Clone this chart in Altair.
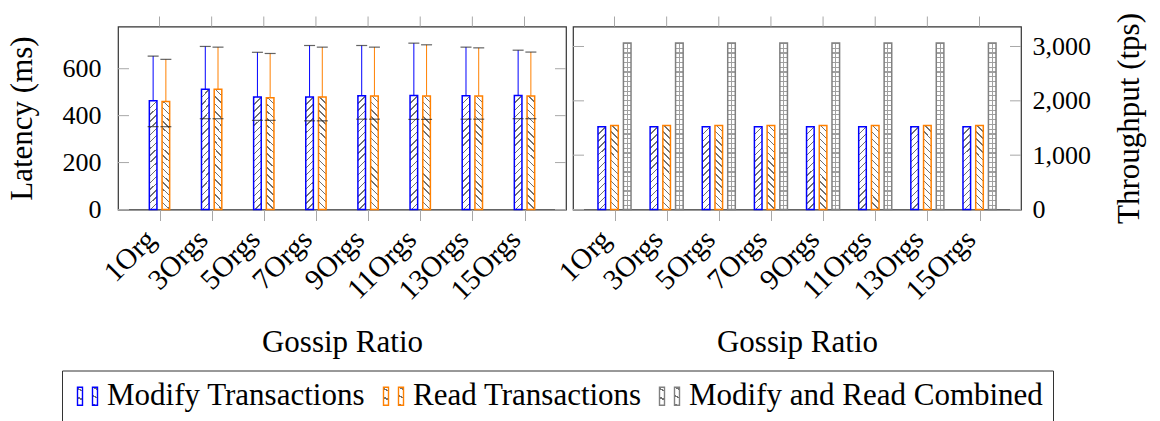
import json

import altair as alt
import pandas as pd

# ---------------------------------------------------------------- data
orgs = ["1Org", "3Orgs", "5Orgs", "7Orgs", "9Orgs", "11Orgs", "13Orgs", "15Orgs"]
series_names = ["Modify Transactions", "Read Transactions", "Modify and Read Combined"]
series_colors = ["#0000ff", "#ff8000", "#808080"]

# latency (ms): bar value plus lower / upper error bar ends
modify_latency = [463, 513, 479, 480, 485, 486, 485, 486]
modify_latency_low = [353, 387, 380, 378, 385, 384, 385, 387]
modify_latency_high = [654, 695, 670, 699, 699, 709, 692, 679]
read_latency = [460, 513, 476, 479, 484, 484, 484, 484]
read_latency_low = [353, 387, 380, 378, 385, 384, 385, 387]
read_latency_high = [640, 692, 665, 692, 692, 702, 689, 671]

# throughput (tps)
modify_throughput = [1521, 1521, 1521, 1521, 1521, 1521, 1521, 1521]
read_throughput = [1546, 1546, 1546, 1546, 1546, 1546, 1546, 1546]
combined_throughput = [3066, 3066, 3066, 3066, 3066, 3066, 3066, 3066]

latency_ticks = [0, 200, 400, 600]
throughput_ticks = [0, 1000, 2000, 3000]

# ---------------------------------------------------------------- tables
n = len(orgs)
idx = list(range(n))
latency = pd.DataFrame({
    "org": orgs * 2,
    "idx": idx * 2,
    "series": [series_names[0]] * n + [series_names[1]] * n,
    "value": modify_latency + read_latency,
    "low": modify_latency_low + read_latency_low,
    "high": modify_latency_high + read_latency_high,
})
throughput = pd.DataFrame({
    "org": orgs * 3,
    "idx": idx * 3,
    "series": [series_names[0]] * n + [series_names[1]] * n + [series_names[2]] * n,
    "value": modify_throughput + read_throughput + combined_throughput,
})
cats = pd.DataFrame({"idx": idx})
lat_tick_df = pd.DataFrame({"v": latency_ticks})
tp_tick_df = pd.DataFrame({"v": throughput_ticks})

# ---------------------------------------------------------------- layout / style
FONT = "Liberation Serif"
W, H = 448, 183
X_DOMAIN = [-0.7, 7.7]
LAT_DOMAIN = [0, 780]
TP_DOMAIN = [0, 3368]
TICK_GRAY = "#a8a8a8"
BAR_W = 7.6
BAR_STROKE = 1.5
TICK_LEN = 11
HATCH = "#707070"

stroke_scale = alt.Scale(domain=series_names, range=series_colors)

# legend swatch: two narrow upright bars
SWATCH = "M-1,-0.9H-0.5V0.9H-1Z M0.5,-0.9H1V0.9H0.5Z"
legend = alt.Legend(
    orient="none", legendX=-56, legendY=344, direction="horizontal", title=None,
    symbolType=SWATCH, symbolSize=400, symbolStrokeWidth=1.4, symbolFillColor="white",
    symbolOpacity=1, labelFont=FONT, labelFontSize=31, labelColor="black",
    labelLimit=2000, labelOffset=4, columnPadding=12, padding=10,
    strokeColor="#333", fillColor="white",
)


def hatch(direction, count, aspect, line=HATCH, frac=0.2):
    """Diagonal stripes as a hard-stop linear gradient in bar bbox units."""
    stops = []
    for k in range(count):
        a, b, c = k / count, (k + frac) / count, (k + 1) / count
        stops += [
            {"offset": a, "color": line}, {"offset": b, "color": line},
            {"offset": b, "color": "white"}, {"offset": c, "color": "white"},
        ]
    s = (aspect + 1) / (aspect * aspect + 1)
    if direction == "ne":
        x1, y1, x2, y2 = 0, 0, s * aspect, s
    else:
        x1, y1, x2, y2 = 0, 1, s * aspect, 1 - s
    return {"gradient": "linear", "stops": stops, "x1": x1, "y1": y1, "x2": x2, "y2": y2}


def rows(count, line="#a0a0a0", frac=0.25):
    stops = []
    for k in range(count):
        a, b, c = k / count, (k + frac) / count, (k + 1) / count
        stops += [
            {"offset": a, "color": line}, {"offset": b, "color": line},
            {"offset": b, "color": "white"}, {"offset": c, "color": "white"},
        ]
    return {"gradient": "linear", "stops": stops, "x1": 0, "y1": 0, "x2": 0, "y2": 1}


CLEAR = "rgba(255,255,255,0)"
mid_line = {
    "gradient": "linear", "x1": 0, "y1": 0, "x2": 1, "y2": 0,
    "stops": [
        {"offset": 0, "color": CLEAR}, {"offset": 0.43, "color": CLEAR},
        {"offset": 0.43, "color": "#a0a0a0"}, {"offset": 0.57, "color": "#a0a0a0"},
        {"offset": 0.57, "color": CLEAR}, {"offset": 1, "color": CLEAR},
    ],
}

lat_h = 485 / LAT_DOMAIN[1] * H
tp_h = 1530 / TP_DOMAIN[1] * H
lat_ne = hatch("ne", 17, BAR_W / lat_h)
lat_nw = hatch("nw", 17, BAR_W / lat_h)
tp_ne = hatch("ne", 13, BAR_W / tp_h)
tp_nw = hatch("nw", 13, BAR_W / tp_h)
grid_rows = rows(35)

label_expr = json.dumps(orgs) + "[datum.value]"
x_axis = alt.Axis(
    values=idx, labelExpr=label_expr, labelAngle=-45, labelAlign="right",
    labelBaseline="middle", labelFontSize=29, labelPadding=14, labelOffset=-9,
    labelOverlap=False, labelFlush=False, tickSize=TICK_LEN, tickColor=TICK_GRAY,
    tickWidth=1, title="Gossip Ratio", titleFontSize=31, titleX=W / 2, titleY=142,
    titleAlign="center", titleBaseline="alphabetic",
)
lat_axis = alt.Axis(
    orient="left", values=latency_ticks, ticks=False, tickSize=0, labelPadding=17,
    labelFontSize=26, title="Latency (ms)", titleFontSize=31, titleAngle=270,
    titleX=-86.4, titleY=H / 2, titleAlign="center", titleBaseline="alphabetic",
)
tp_axis = alt.Axis(
    orient="right", values=throughput_ticks, format=",d", ticks=False, tickSize=0,
    labelPadding=11, labelFontSize=26, title="Throughput (tps)", titleFontSize=31,
    titleAngle=270, titleX=117.7, titleY=H / 2, titleAlign="center",
    titleBaseline="alphabetic",
)


def xenc(field):
    return alt.X(field, type="quantitative",
                 scale=alt.Scale(domain=X_DOMAIN, nice=False, zero=False), axis=x_axis)


def yenc(field, domain, axis):
    return alt.Y(field, type="quantitative",
                 scale=alt.Scale(domain=domain, nice=False, zero=True), axis=axis)


def series_stroke():
    return alt.Stroke("series:N", scale=stroke_scale, legend=legend)


def frame_ticks(tick_df, domain, axis):
    """Inner y ticks on both sides and outer x ticks along the top."""
    left = alt.Chart(tick_df).mark_rule(color=TICK_GRAY, strokeWidth=1).encode(
        y=yenc("v", domain, axis), x=alt.value(0), x2=alt.value(TICK_LEN))
    right = alt.Chart(tick_df).mark_rule(color=TICK_GRAY, strokeWidth=1).encode(
        y=yenc("v", domain, axis), x=alt.value(W - TICK_LEN), x2=alt.value(W))
    top = alt.Chart(cats).mark_rule(color=TICK_GRAY, strokeWidth=1).encode(
        x=xenc("idx"), y=alt.value(-10), y2=alt.value(0))
    return [left, right, top]


# ---------------------------------------------------------------- latency panel
lat_offsets = {series_names[0]: -0.122, series_names[1]: 0.122}
lat_fills = {series_names[0]: lat_ne, series_names[1]: lat_nw}
lat_layers = []
for name in series_names[:2]:
    base = alt.Chart(latency).transform_filter(
        alt.datum.series == name
    ).transform_calculate(xpos=f"datum.idx + {lat_offsets[name]}")
    bars = base.mark_bar(size=BAR_W, fill=lat_fills[name], strokeWidth=BAR_STROKE).encode(
        x=xenc("xpos"), y=yenc("value", LAT_DOMAIN, lat_axis), stroke=series_stroke())
    whisker = base.mark_rule(strokeWidth=1).encode(
        x=xenc("xpos"), y=yenc("value", LAT_DOMAIN, lat_axis), y2="high:Q",
        stroke=series_stroke())
    cap_hi = base.mark_tick(orient="horizontal", size=11, thickness=1.2, color="#222").encode(
        x=xenc("xpos"), y=yenc("high", LAT_DOMAIN, lat_axis))
    cap_lo = base.mark_tick(orient="horizontal", size=11, thickness=1.2, color="#222").encode(
        x=xenc("xpos"), y=yenc("low", LAT_DOMAIN, lat_axis))
    lat_layers += [bars, whisker, cap_hi, cap_lo]

left_panel = alt.layer(
    *frame_ticks(lat_tick_df, LAT_DOMAIN, lat_axis), *lat_layers
).properties(width=W, height=H)

# ---------------------------------------------------------------- throughput panel
tp_offsets = {series_names[0]: -0.244, series_names[1]: 0.0, series_names[2]: 0.244}
tp_layers = []
for name in series_names:
    base = alt.Chart(throughput).transform_filter(
        alt.datum.series == name
    ).transform_calculate(xpos=f"datum.idx + {tp_offsets[name]}")
    enc = dict(x=xenc("xpos"), y=yenc("value", TP_DOMAIN, tp_axis))
    if name == series_names[2]:
        tp_layers.append(base.mark_bar(size=BAR_W, fill=grid_rows, strokeWidth=0).encode(**enc))
        tp_layers.append(base.mark_bar(size=BAR_W, fill=mid_line, strokeWidth=BAR_STROKE).encode(
            stroke=series_stroke(), **enc))
    else:
        fill = tp_ne if name == series_names[0] else tp_nw
        tp_layers.append(base.mark_bar(size=BAR_W, fill=fill, strokeWidth=BAR_STROKE).encode(
            stroke=series_stroke(), **enc))

right_panel = alt.layer(
    *frame_ticks(tp_tick_df, TP_DOMAIN, tp_axis), *tp_layers
).properties(width=W, height=H)

chart = alt.hconcat(
    left_panel, right_panel, spacing=7, bounds="flush"
).properties(
    padding={"left": 5, "top": 11.5, "right": 5, "bottom": 5}
).configure_view(
    stroke="#333", strokeWidth=1.2
).configure_axis(
    domain=False, grid=False, labelFont=FONT, titleFont=FONT,
    labelColor="black", titleColor="black", titleFontWeight="normal",
)

chart.save("out.html", embed_options={"renderer": "svg", "actions": False})
